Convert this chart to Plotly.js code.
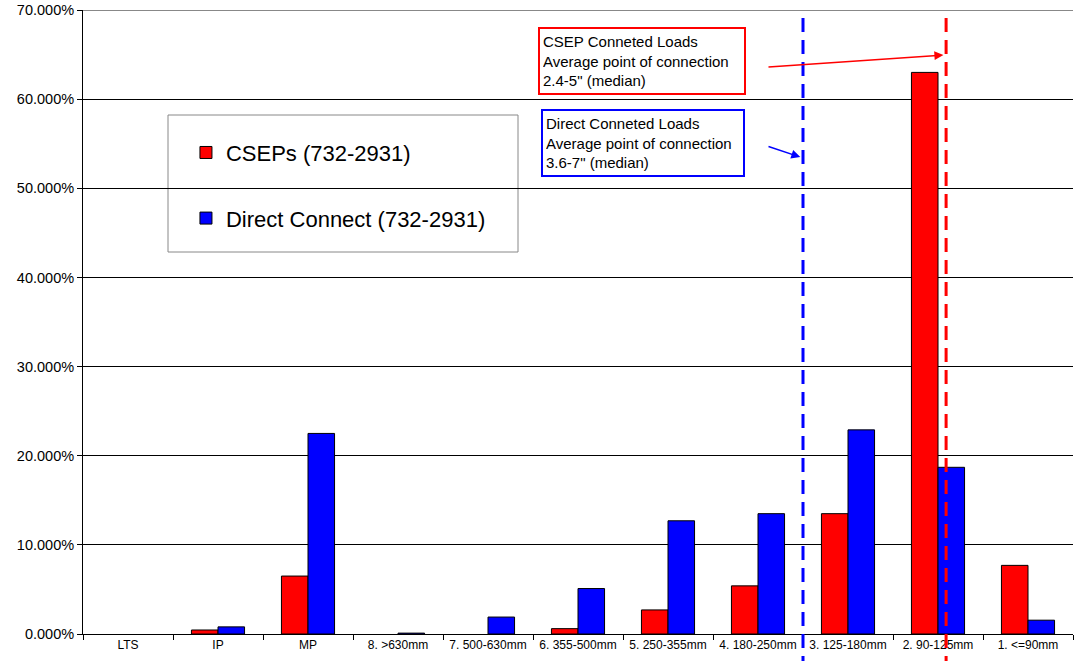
<!DOCTYPE html>
<html><head><meta charset="utf-8">
<script src="https://cdn.plot.ly/plotly-3.0.1.min.js"></script>
<style>body{margin:0;background:#fff}#chart{width:1074px;height:661px}</style>
</head><body><div id="chart"></div>
<script>
const categories = ["LTS","IP","MP","8. >630mm","7. 500-630mm","6. 355-500mm","5. 250-355mm","4. 180-250mm","3. 125-180mm","2. 90-125mm","1. <=90mm"];
const csepValues = [0, 0.0045, 0.065, 0, 0, 0.006, 0.027, 0.054, 0.135, 0.630, 0.077];
const directValues = [0, 0.008, 0.225, 0.001, 0.019, 0.051, 0.127, 0.135, 0.229, 0.187, 0.0155];
const seriesNames = ["CSEPs (732-2931)", "Direct Connect (732-2931)"];
const yTicks = [0, 0.1, 0.2, 0.3, 0.4, 0.5, 0.6, 0.7];
const directMedianPos = 7.5;
const csepMedianPos = 9.09;
const noteCsep = "CSEP Conneted Loads<br>Average point of connection<br>2.4-5\" (median)";
const noteDirect = "Direct Conneted Loads<br>Average point of connection<br>3.6-7\" (median)";

const font = "Liberation Sans, Arial, sans-serif";
// zero values are not drawn as bars (as in the original chart)
const shown = v => v.map(d => d > 0 ? d : null);
const traces = [
  {type:"bar", name:seriesNames[0], x:categories, y:shown(csepValues), legendgroup:"a",
   marker:{color:"#ff0000", line:{color:"#000", width:1}}},
  {type:"bar", name:seriesNames[1], x:categories, y:shown(directValues), legendgroup:"b",
   marker:{color:"#0000ff", line:{color:"#000", width:1}}}
];
const layout = {
  width:1074, height:661,
  margin:{l:83, r:1, t:10, b:27},
  paper_bgcolor:"#fff", plot_bgcolor:"#fff",
  font:{family:font, color:"#000"},
  barmode:"group", bargap:0.41, bargroupgap:0,
  xaxis:{type:"category", tickson:"boundaries", ticks:"outside", ticklen:5, tickcolor:"#000",
         showline:true, linecolor:"#000", linewidth:1, showgrid:false,
         tickfont:{size:12, family:font}, automargin:false},
  yaxis:{range:[0,0.7], tickvals:yTicks, tickformat:".3%", ticks:"outside", ticklen:5,
         tickcolor:"#000", showline:true, linecolor:"#000", linewidth:1,
         showgrid:true, gridcolor:"#000", gridwidth:1, zeroline:false,
         tickfont:{size:14.5, family:font}, automargin:false},
  showlegend:true,
  legend:{x:0.104, y:0.805, xanchor:"left", yanchor:"top", bgcolor:"rgba(0,0,0,0)",
          borderwidth:0, font:{size:22, family:font}, tracegroupgap:34, traceorder:"grouped",
          itemwidth:30},
  shapes:[
    {type:"line", xref:"paper", yref:"y", x0:0, x1:1, y0:0.7, y1:0.7,
     line:{color:"#888", width:2}},
    {type:"line", xref:"x", yref:"paper", x0:directMedianPos, x1:directMedianPos, y0:0.987, y1:-0.045,
     line:{color:"#0000ff", width:3, dash:"14px,8px"}},
    {type:"line", xref:"x", yref:"paper", x0:csepMedianPos, x1:csepMedianPos, y0:0.987, y1:-0.045,
     line:{color:"#ff0000", width:3, dash:"14px,8px"}},
    {type:"rect", xref:"paper", yref:"paper", x0:(168-83)/990, x1:(518-83)/990, y0:(634-252)/624, y1:(634-115)/624,
     line:{color:"#888", width:1}, fillcolor:"#fff", layer:"below"}
  ],
  annotations:[
    {xref:"x", yref:"y", x:4.556, y:0.681, xanchor:"left", yanchor:"top", text:noteCsep, showarrow:false,
     align:"left", valign:"middle", bordercolor:"#ff0000", borderwidth:2, borderpad:3, bgcolor:"#fff",
     width:198, height:58, font:{size:15, family:font, color:"#000"}},
    {xref:"x", yref:"y", x:4.589, y:0.589, xanchor:"left", yanchor:"top", text:noteDirect, showarrow:false,
     align:"left", valign:"middle", bordercolor:"#0000ff", borderwidth:2, borderpad:3, bgcolor:"#fff",
     width:194, height:58, font:{size:15, family:font, color:"#000"}},
    {xref:"x", yref:"y", axref:"x", ayref:"y", x:9.06, y:0.6495, ax:7.1, ay:0.636, text:"",
     showarrow:true, arrowhead:2, arrowsize:1.2, arrowwidth:1.5, arrowcolor:"#ff0000"},
    {xref:"x", yref:"y", axref:"x", ayref:"y", x:7.47, y:0.535, ax:7.1, ay:0.5475, text:"",
     showarrow:true, arrowhead:2, arrowsize:1.2, arrowwidth:1.5, arrowcolor:"#0000ff"}
  ]
};
Plotly.newPlot("chart", traces, layout, {displayModeBar:false, staticPlot:true});
</script></body></html>
